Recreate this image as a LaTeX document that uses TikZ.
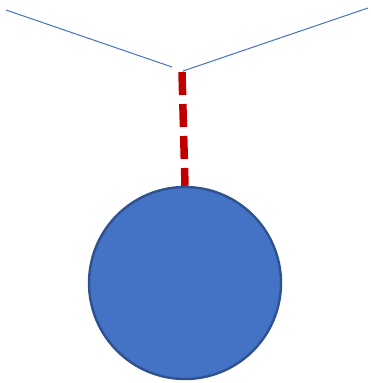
\documentclass[tikz,border=0pt]{standalone}
\usepackage{tikz}
\usetikzlibrary{positioning}
\definecolor{topMavi}{HTML}{4472C4}
\definecolor{kenarMavi}{HTML}{2F528F}
\definecolor{ipKirmizi}{HTML}{C00000}
\tikzset{
  ip/.style={ipKirmizi,line width=7.5pt,dash pattern=on 23pt off 9pt},
  kol/.style={topMavi,line width=1pt},
  top/.style={circle,fill=topMavi,draw=kenarMavi,line width=2.4pt,minimum size=192pt,inner sep=0pt}
}
\begin{document}
\begin{tikzpicture}[x=1pt,y=-1pt]
\useasboundingbox (0,0) rectangle (370,383);
% askı kolları
\coordinate (solUc) at (6,10);
\coordinate (solIc) at (172,67);
\coordinate (sagIc) at (183,71);
\coordinate (sagUc) at (368,8);
\draw[kol] (solUc)--(solIc);
\draw[kol] (sagIc)--(sagUc);
% top ve ip
\node[top] (top) at (185,283) {};
\coordinate (ipUst) at (182,72);
\draw[ip] (ipUst)--(top.north);
\end{tikzpicture}
\end{document}
